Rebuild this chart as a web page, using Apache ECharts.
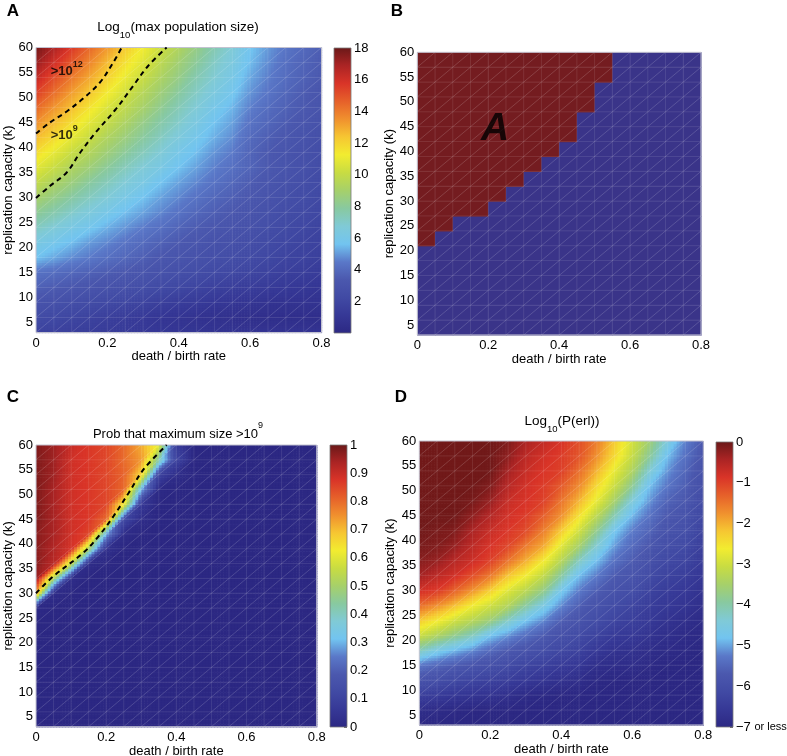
<!DOCTYPE html>
<html>
<head>
<meta charset="utf-8">
<script src="https://cdn.jsdelivr.net/npm/echarts@6/dist/echarts.min.js"></script>
<style>html,body{margin:0;padding:0;background:#fff}#chart{width:787px;height:756px}</style>
</head>
<body>
<div id="chart"></div>
<script>
// ---------------- data ----------------
const deathRates = [0,0.05,0.1,0.15,0.2,0.25,0.3,0.35,0.4,0.45,0.5,0.55,0.6,0.65,0.7,0.75,0.8];
const capacities = [3,6,9,12,15,18,21,24,27,30,33,36,39,42,45,48,51,54,57,60];

// Panel A: log10(max population size); rows follow capacities (k = 3 ... 60)
const maxPopLog10 = [
  [1.8,1.7,1.6,1.5,1.4,1.3,1.2,1.1,1.0,1.0,0.9,0.9,0.9,0.9,0.9,0.9,0.9],
  [2.4,2.2,2.0,1.8,1.6,1.4,1.2,1.0,0.9,0.8,0.7,0.6,0.5,0.5,0.5,0.5,0.5],
  [3.0,2.8,2.6,2.4,2.2,2.0,1.8,1.6,1.4,1.3,1.1,1.0,0.9,0.8,0.8,0.8,0.8],
  [3.7,3.5,3.3,3.1,2.9,2.7,2.5,2.3,2.1,1.9,1.7,1.5,1.4,1.3,1.2,1.1,1.0],
  [4.3,4.1,3.9,3.7,3.5,3.3,3.1,2.9,2.7,2.5,2.3,2.1,1.9,1.8,1.6,1.5,1.4],
  [5.6,5.2,4.8,4.5,4.2,3.9,3.6,3.3,3.1,2.9,2.7,2.5,2.3,2.1,1.9,1.8,1.6],
  [6.3,5.9,5.5,5.0,4.7,4.3,4.0,3.7,3.4,3.2,2.9,2.7,2.5,2.3,2.1,1.9,1.8],
  [7.2,6.7,6.2,5.8,5.3,4.9,4.5,4.2,3.8,3.5,3.3,3.0,2.8,2.6,2.3,2.1,1.9],
  [8.1,7.6,7.0,6.5,6.0,5.5,5.1,4.7,4.3,3.9,3.6,3.3,3.0,2.8,2.5,2.3,2.1],
  [9.0,8.4,7.8,7.2,6.7,6.1,5.6,5.1,4.7,4.3,3.9,3.6,3.3,3.0,2.7,2.5,2.2],
  [9.9,9.2,8.6,7.9,7.3,6.7,6.2,5.6,5.1,4.7,4.3,3.9,3.5,3.2,2.9,2.6,2.4],
  [10.8,10.1,9.3,8.7,8.0,7.3,6.7,6.2,5.6,5.1,4.6,4.2,3.8,3.4,3.1,2.8,2.5],
  [11.7,10.9,10.1,9.4,8.7,8.0,7.3,6.7,6.0,5.5,4.9,4.5,3.8,3.4,3.1,2.8,2.6],
  [12.6,11.8,10.9,10.1,9.3,8.6,7.9,7.2,6.5,5.9,5.3,4.8,4.0,3.6,3.3,3.0,2.7],
  [13.5,12.6,11.7,10.8,10.0,9.2,8.4,7.7,7.0,6.3,5.6,5.1,4.3,3.9,3.5,3.2,2.9],
  [14.4,13.4,12.5,11.5,10.6,9.8,9.0,8.2,7.4,6.7,6.0,5.4,4.6,4.1,3.7,3.4,3.1],
  [15.4,14.3,13.2,12.3,11.3,10.4,9.5,8.7,7.9,7.1,6.4,5.8,4.9,4.4,3.9,3.5,3.2],
  [16.3,15.1,14.0,13.0,12.0,11.0,10.1,9.2,8.4,7.5,6.8,6.1,5.2,4.6,4.1,3.7,3.4],
  [17.2,16.0,14.8,13.7,12.6,11.6,10.7,9.7,8.8,8.0,7.1,6.4,5.5,4.8,4.2,3.8,3.5],
  [17.8,16.8,15.6,14.4,13.3,12.2,11.2,10.2,9.3,8.4,7.5,6.7,5.7,5.0,4.4,4.0,3.6]
];

// Panel B: for each death/birth column, the capacity k from which region "A" starts (null = none)
const regionAStartK = [21,24,27,27,30,33,36,39,42,48,54,null,null,null,null,null];

// Panel C: probability that maximum size > 1e9; rows follow capacities
const probAbove1e9 = [
  [0,0,0,0,0,0,0,0,0,0,0,0,0,0,0,0,0],
  [0,0,0,0,0,0,0,0,0,0,0,0,0,0,0,0,0],
  [0,0,0,0,0,0,0,0,0,0,0,0,0,0,0,0,0],
  [0,0,0,0,0,0,0,0,0,0,0,0,0,0,0,0,0],
  [0,0,0,0,0,0,0,0,0,0,0,0,0,0,0,0,0],
  [0,0,0,0,0,0,0,0,0,0,0,0,0,0,0,0,0],
  [0,0,0,0,0,0,0,0,0,0,0,0,0,0,0,0,0],
  [0,0,0,0,0,0,0,0,0,0,0,0,0,0,0,0,0],
  [0.01,0,0,0,0,0,0,0,0,0,0,0,0,0,0,0,0],
  [0.72,0.02,0,0,0,0,0,0,0,0,0,0,0,0,0,0,0],
  [0.95,0.50,0.02,0,0,0,0,0,0,0,0,0,0,0,0,0,0],
  [0.97,0.92,0.55,0.02,0,0,0,0,0,0,0,0,0,0,0,0,0],
  [0.97,0.93,0.88,0.50,0.03,0,0,0,0,0,0,0,0,0,0,0,0],
  [0.97,0.94,0.89,0.85,0.30,0.02,0,0,0,0,0,0,0,0,0,0,0],
  [0.98,0.94,0.89,0.87,0.80,0.12,0.02,0,0,0,0,0,0,0,0,0,0],
  [0.98,0.94,0.89,0.87,0.85,0.62,0.06,0,0,0,0,0,0,0,0,0,0],
  [0.98,0.94,0.89,0.87,0.85,0.80,0.30,0.01,0,0,0,0,0,0,0,0,0],
  [0.98,0.95,0.89,0.87,0.85,0.81,0.66,0.10,0.02,0,0,0,0,0,0,0,0],
  [0.98,0.95,0.89,0.87,0.85,0.80,0.74,0.42,0.10,0,0,0,0,0,0,0,0],
  [0.98,0.95,0.90,0.87,0.85,0.80,0.72,0.60,0.08,0,0,0,0,0,0,0,0]
];

// Panel D: log10(P(erl)); rows follow capacities
const log10Perl = [
  [-7,-7,-7,-7,-7,-7,-7,-7,-7,-7,-7,-7,-7,-7,-7,-7,-7],
  [-6.85,-6.9,-6.95,-7,-7,-7,-7,-7,-7,-7,-7,-7,-7,-7,-7,-7,-7],
  [-6.4,-6.5,-6.6,-6.65,-6.7,-6.8,-6.9,-6.95,-7,-7,-7,-7,-7,-7,-7,-7,-7],
  [-5.9,-6.0,-6.15,-6.25,-6.35,-6.45,-6.55,-6.65,-6.75,-6.85,-6.95,-7,-7,-7,-7,-7,-7],
  [-5.3,-5.5,-5.65,-5.8,-5.95,-6.1,-6.25,-6.35,-6.5,-6.6,-6.8,-6.85,-6.85,-6.95,-7,-7,-7],
  [-4.15,-4.6,-4.9,-5.15,-5.45,-5.7,-5.85,-6.0,-6.2,-6.35,-6.55,-6.7,-6.75,-6.85,-6.9,-6.95,-7],
  [-3.05,-3.4,-3.8,-4.2,-4.8,-5.1,-5.4,-5.65,-5.95,-6.1,-6.3,-6.5,-6.55,-6.7,-6.8,-6.9,-6.95],
  [-2.25,-2.6,-3.0,-3.3,-3.65,-4.25,-4.8,-5.15,-5.6,-5.85,-6.05,-6.25,-6.4,-6.55,-6.7,-6.8,-6.9],
  [-1.45,-1.75,-2.15,-2.65,-3.0,-3.35,-3.95,-4.55,-5.15,-5.6,-5.85,-6.05,-6.25,-6.45,-6.55,-6.65,-6.8],
  [-0.8,-0.95,-1.35,-1.8,-2.3,-2.85,-3.25,-3.75,-4.7,-5.25,-5.6,-5.85,-6.0,-6.3,-6.45,-6.55,-6.7],
  [-0.4,-0.6,-0.8,-1.15,-1.55,-2.2,-2.65,-3.15,-3.95,-4.85,-5.25,-5.65,-5.8,-6.1,-6.3,-6.4,-6.6],
  [-0.2,-0.3,-0.55,-0.75,-1.0,-1.5,-2.0,-2.6,-3.3,-4.2,-4.85,-5.35,-5.65,-5.95,-6.15,-6.25,-6.5],
  [-0.1,-0.15,-0.3,-0.6,-0.85,-1.05,-1.55,-1.95,-2.8,-3.5,-4.35,-5.05,-5.45,-5.75,-6.0,-6.1,-6.4],
  [-0.05,-0.1,-0.15,-0.45,-0.7,-0.9,-1.1,-1.6,-2.25,-3.0,-3.8,-4.75,-5.25,-5.55,-5.85,-5.95,-6.3],
  [-0.05,-0.05,-0.05,-0.25,-0.52,-0.8,-0.95,-1.3,-1.75,-2.5,-3.25,-4.1,-4.9,-5.35,-5.7,-5.85,-6.2],
  [-0.05,-0.05,-0.05,-0.1,-0.3,-0.7,-0.85,-1.0,-1.5,-2.05,-2.75,-3.5,-4.45,-5.1,-5.55,-5.7,-6.1],
  [-0.05,-0.05,-0.05,-0.05,-0.15,-0.55,-0.8,-0.95,-1.25,-1.7,-2.4,-3.05,-3.85,-4.85,-5.3,-5.6,-6.0],
  [-0.05,-0.05,-0.05,-0.05,-0.05,-0.4,-0.7,-0.88,-1.0,-1.45,-2.05,-2.75,-3.4,-4.4,-5.1,-5.5,-5.9],
  [-0.05,-0.05,-0.05,-0.05,-0.05,-0.25,-0.6,-0.8,-0.95,-1.2,-1.75,-2.4,-3.1,-3.9,-4.85,-5.35,-5.8],
  [-0.05,-0.05,-0.05,-0.05,-0.05,-0.15,-0.45,-0.65,-0.85,-1.15,-1.6,-2.25,-2.95,-3.6,-4.5,-5.2,-5.7]
];

// dashed contour lines [death/birth rate, k]
const contour1e12 = [[0,42.8],[0.039,45],[0.086,47.2],[0.132,49.8],[0.179,53],[0.2165,57],[0.24,60]];
const contour1e9 = [[0,29.9],[0.039,32.3],[0.086,35],[0.124,39],[0.167,43],[0.223,47.6],[0.272,52.3],[0.314,56.3],[0.366,60]];
const probContour = [[0,30],[0.049,33.4],[0.135,38.2],[0.178,41.5],[0.221,45.6],[0.264,50.3],[0.307,55.1],[0.3725,60]];

// tick labels
const xTicks = [0,0.2,0.4,0.6,0.8];
const yTicks = [5,10,15,20,25,30,35,40,45,50,55,60];
const barTicksA = [2,4,6,8,10,12,14,16,18];
const barTicksC = [0,0.1,0.2,0.3,0.4,0.5,0.6,0.7,0.8,0.9,1];
const barTicksD = [-7,-6,-5,-4,-3,-2,-1,0];
const rangeA = [0,18], rangeC = [0,1], rangeD = [-7,0];

// annotation anchors
const contourTags = [[0.041,55.7,'12'],[0.041,42.9,'9']];
const regionTag = [[0.219,44.5,'A']];

// ---------------- styling ----------------
const FONT = '"Liberation Sans", Arial, Helvetica, sans-serif';
const jetColors = ['#2c2883','#363896','#414aa4','#4b58ae','#5a78c8','#72c4f0','#80cad6','#88c9a0',
  '#a6d06a','#c8dc42','#f2ec30','#f6c632','#f0902e','#e6602a','#d93428','#ab2424','#6a1818'];
const B_RED = '#741c20', B_BLUE = '#3a3489';
const GRID_LINE = 'rgba(255,255,255,0.13)', DIAG_LINE = 'rgba(255,255,255,0.2)';
const SUB = 6;

function buildCells(grid) {
  const out = [];
  for (let j = 0; j < capacities.length - 1; j++)
    for (let i = 0; i < deathRates.length - 1; i++)
      out.push([deathRates[i], capacities[j], deathRates[i+1], capacities[j+1],
                grid[j][i], grid[j][i+1], grid[j+1][i], grid[j+1][i+1]]);
  return out;
}
function buildRegionCells() {
  const out = [];
  for (let j = 0; j < capacities.length - 1; j++)
    for (let i = 0; i < deathRates.length - 1; i++) {
      const s = regionAStartK[i];
      out.push([deathRates[i], capacities[j], deathRates[i+1], capacities[j+1], (s != null && capacities[j] >= s) ? 1 : 0]);
    }
  return out;
}

function shadedRenderer(vmin, vmax) {
  return function (params, api) {
    const p0 = api.coord([api.value(0), api.value(1)]);
    const p1 = api.coord([api.value(2), api.value(3)]);
    const f00 = api.value(4), f10 = api.value(5), f01 = api.value(6), f11 = api.value(7);
    const w = (p1[0] - p0[0]) / SUB, h = (p0[1] - p1[1]) / SUB;
    const children = [];
    for (let a = 0; a < SUB; a++) {
      for (let b = 0; b < SUB; b++) {
        const u = (a + 0.5) / SUB, v = (b + 0.5) / SUB;
        const val = v <= u ? f00 + u * (f10 - f00) + v * (f11 - f10)
                           : f00 + v * (f01 - f00) + u * (f11 - f01);
        const t = Math.max(0, Math.min(1, (val - vmin) / (vmax - vmin)));
        children.push({type: 'rect', silent: true,
          shape: {x: p0[0] + a * w, y: p0[1] - (b + 1) * h, width: w + 0.6, height: h + 0.6},
          style: {fill: echarts.color.lerp(t, jetColors)}});
      }
    }
    return {type: 'group', children};
  };
}
function flatRenderer(params, api) {
  const p0 = api.coord([api.value(0), api.value(1)]);
  const p1 = api.coord([api.value(2), api.value(3)]);
  return {type: 'rect', silent: true,
    shape: {x: p0[0], y: p1[1], width: p1[0] - p0[0] + 0.6, height: p0[1] - p1[1] + 0.6},
    style: {fill: api.value(4) ? B_RED : B_BLUE}};
}
function meshRenderer(params, api) {
  const p0 = api.coord([api.value(0), api.value(1)]);
  const p1 = api.coord([api.value(2), api.value(3)]);
  return {type: 'group', children: [
    {type: 'line', silent: true, shape: {x1: p0[0], y1: p0[1], x2: p1[0], y2: p0[1]}, style: {stroke: GRID_LINE, lineWidth: 0.8}},
    {type: 'line', silent: true, shape: {x1: p0[0], y1: p0[1], x2: p0[0], y2: p1[1]}, style: {stroke: GRID_LINE, lineWidth: 0.8}},
    {type: 'line', silent: true, shape: {x1: p0[0], y1: p0[1], x2: p1[0], y2: p1[1]}, style: {stroke: DIAG_LINE, lineWidth: 0.8}}
  ]};
}
function frameRenderer(params, api) {
  const p0 = api.coord([api.value(0), api.value(1)]);
  const p1 = api.coord([api.value(2), api.value(3)]);
  return {type: 'rect', silent: true,
    shape: {x: p0[0], y: p1[1], width: p1[0] - p0[0], height: p0[1] - p1[1]},
    style: {fill: 'none', stroke: '#c2c2d0', lineWidth: 1}};
}
function barRenderer(params, api) {
  const p0 = api.coord([api.value(0), api.value(1)]);
  const p1 = api.coord([api.value(2), api.value(3)]);
  const stops = jetColors.map((c, i) => ({offset: i / (jetColors.length - 1), color: c}));
  return {type: 'rect', silent: true,
    shape: {x: p0[0], y: p1[1], width: p1[0] - p0[0], height: p0[1] - p1[1]},
    style: {fill: new echarts.graphic.LinearGradient(0, 1, 0, 0, stops), stroke: '#7a7a7a', lineWidth: 0.8}};
}

const labelStyle = {color: '#000', fontSize: 13, fontFamily: FONT};
function mainX(gi, gap) {
  return {gridIndex: gi, type: 'value', min: 0, max: 0.8,
    axisLine: {show: false}, axisTick: {show: false}, splitLine: {show: false},
    axisLabel: Object.assign({customValues: xTicks, margin: 4, formatter: v => v === 0 ? '0' : v.toFixed(1)}, labelStyle),
    name: 'death / birth rate', nameLocation: 'middle', nameGap: gap, nameTextStyle: labelStyle};
}
function mainY(gi, gap) {
  return {gridIndex: gi, type: 'value', min: 3, max: 60,
    axisLine: {show: false}, axisTick: {show: false}, splitLine: {show: false},
    axisLabel: Object.assign({customValues: yTicks, margin: 3}, labelStyle),
    name: 'replication capacity (k)', nameLocation: 'middle', nameGap: gap, nameRotate: 90, nameTextStyle: labelStyle};
}
function barX(gi) { return {gridIndex: gi, type: 'value', min: 0, max: 1, show: false}; }
function barY(gi, range, ticks, fmt) {
  return {gridIndex: gi, type: 'value', min: range[0], max: range[1], position: 'right',
    axisLine: {show: false, onZero: false}, splitLine: {show: false},
    axisTick: {show: true, inside: true, length: 3, customValues: ticks, lineStyle: {color: '#444', width: 0.8}},
    axisLabel: Object.assign({customValues: ticks, margin: 3, formatter: fmt,
      rich: {n: {fontSize: 13, fontFamily: FONT, color: '#000'}, s: {fontSize: 11, fontFamily: FONT, color: '#000'}}}, labelStyle)};
}

const gridsPx = [
  {left: 36, top: 47.5, width: 285.5, height: 285},
  {left: 417.3, top: 52.3, width: 283.7, height: 282.7},
  {left: 36, top: 445, width: 280.7, height: 281.7},
  {left: 419.3, top: 441, width: 284, height: 284},
  {left: 334, top: 48, width: 17, height: 285},
  {left: 330, top: 445, width: 17, height: 282},
  {left: 716, top: 442, width: 17, height: 285}
].map(g => Object.assign({outerBoundsMode: 'none', containLabel: false}, g));

const frameData = [[0, 3, 0.8, 60]];
function custom(gi, data, renderItem, z) {
  return {type: 'custom', xAxisIndex: gi, yAxisIndex: gi, data, renderItem, z, silent: true,
    encode: {x: [0, 2], y: [1, 3]}, animation: false};
}
const dashStyle = {color: '#000', width: 2, type: [5, 4]};
function dashed(gi, data) {
  return {type: 'line', xAxisIndex: gi, yAxisIndex: gi, data, smooth: 0.35, showSymbol: false, symbol: 'none',
    lineStyle: dashStyle, z: 6, silent: true, animation: false};
}

const cellsA = buildCells(maxPopLog10), cellsC = buildCells(probAbove1e9), cellsD = buildCells(log10Perl);
const cellsB = buildRegionCells();

const option = {
  animation: false,
  backgroundColor: '#fff',
  grid: gridsPx,
  xAxis: [mainX(0, 17), mainX(1, 17), mainX(2, 15.5), mainX(3, 16.5), barX(4), barX(5), barX(6)],
  yAxis: [mainY(0, 20.5), mainY(1, 20), mainY(2, 20.5), mainY(3, 22),
    barY(4, rangeA, barTicksA, v => String(v)),
    barY(5, rangeC, barTicksC, v => (v === 0 || v === 1) ? String(v) : v.toFixed(1)),
    barY(6, rangeD, barTicksD, v => v === -7 ? '{n|\u22127} {s|or less}' : (v === 0 ? '0' : '\u2212' + Math.abs(v)))],
  series: [
    custom(0, cellsA, shadedRenderer(rangeA[0], rangeA[1]), 1),
    custom(1, cellsB, flatRenderer, 1),
    custom(2, cellsC, shadedRenderer(rangeC[0], rangeC[1]), 1),
    custom(3, cellsD, shadedRenderer(rangeD[0], rangeD[1]), 1),
    custom(0, cellsA, meshRenderer, 2),
    custom(1, cellsB, meshRenderer, 2),
    custom(2, cellsC, meshRenderer, 2),
    custom(3, cellsD, meshRenderer, 2),
    custom(0, frameData, frameRenderer, 3),
    custom(1, frameData, frameRenderer, 3),
    custom(2, frameData, frameRenderer, 3),
    custom(3, frameData, frameRenderer, 3),
    custom(4, [[0, rangeA[0], 1, rangeA[1]]], barRenderer, 3),
    custom(5, [[0, rangeC[0], 1, rangeC[1]]], barRenderer, 3),
    custom(6, [[0, rangeD[0], 1, rangeD[1]]], barRenderer, 3),
    dashed(0, contour1e12),
    dashed(0, contour1e9),
    dashed(2, probContour),
    {type: 'scatter', xAxisIndex: 0, yAxisIndex: 0, data: contourTags, symbolSize: 0, z: 7, silent: true,
      label: {show: true, position: 'right', distance: 0,
        formatter: p => '{b|>10}{s|' + p.value[2] + '}',
        rich: {b: {fontSize: 13, fontWeight: 'bold', fontFamily: FONT, color: '#000', lineHeight: 18, verticalAlign: 'bottom'},
               s: {fontSize: 9, fontWeight: 'bold', fontFamily: FONT, color: '#000', lineHeight: 18, verticalAlign: 'top'}}}},
    {type: 'scatter', xAxisIndex: 1, yAxisIndex: 1, data: regionTag, symbolSize: 0, z: 7, silent: true,
      label: {show: true, position: 'inside', formatter: p => p.value[2],
        fontSize: 39, fontWeight: 'bold', fontStyle: 'italic', fontFamily: FONT, color: '#000'}}
  ],
  graphic: [
    {type: 'text', x: 13, y: 11, style: {text: 'A', font: 'bold 17px ' + FONT, fill: '#000', textAlign: 'center', textVerticalAlign: 'middle'}},
    {type: 'text', x: 397, y: 11, style: {text: 'B', font: 'bold 17px ' + FONT, fill: '#000', textAlign: 'center', textVerticalAlign: 'middle'}},
    {type: 'text', x: 13, y: 397, style: {text: 'C', font: 'bold 17px ' + FONT, fill: '#000', textAlign: 'center', textVerticalAlign: 'middle'}},
    {type: 'text', x: 401, y: 397, style: {text: 'D', font: 'bold 17px ' + FONT, fill: '#000', textAlign: 'center', textVerticalAlign: 'middle'}},
    {type: 'text', x: 178, y: 30, style: {text: '{n|Log}{s|10}{n|(max population size)}', textAlign: 'center', textVerticalAlign: 'middle',
      rich: {n: {fontSize: 13.5, fontFamily: FONT, fill: '#000', color: '#000', lineHeight: 20, verticalAlign: 'top'},
             s: {fontSize: 9.5, fontFamily: FONT, fill: '#000', color: '#000', lineHeight: 20, verticalAlign: 'bottom'}}}},
    {type: 'text', x: 178, y: 431, style: {text: '{n|Prob that maximum size >10}{p|9}', textAlign: 'center', textVerticalAlign: 'middle',
      rich: {n: {fontSize: 13, fontFamily: FONT, fill: '#000', color: '#000', lineHeight: 20, verticalAlign: 'bottom'},
             p: {fontSize: 9, fontFamily: FONT, fill: '#000', color: '#000', lineHeight: 20, verticalAlign: 'top'}}}},
    {type: 'text', x: 562, y: 424, style: {text: '{n|Log}{s|10}{n|(P(erl))}', textAlign: 'center', textVerticalAlign: 'middle',
      rich: {n: {fontSize: 13.5, fontFamily: FONT, fill: '#000', color: '#000', lineHeight: 20, verticalAlign: 'top'},
             s: {fontSize: 9.5, fontFamily: FONT, fill: '#000', color: '#000', lineHeight: 20, verticalAlign: 'bottom'}}}}
  ]
};

const chart = echarts.init(document.getElementById('chart'), null, {renderer: 'canvas', width: 787, height: 756});
chart.setOption(option);
</script>
</body>
</html>
